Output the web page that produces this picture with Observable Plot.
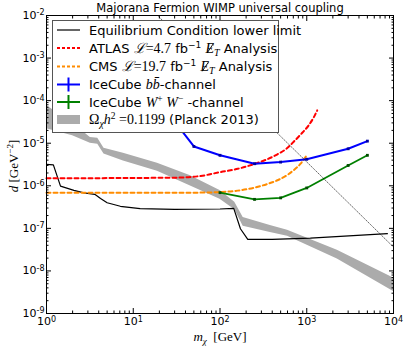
<!DOCTYPE html>
<html><head><meta charset="utf-8">
<script src="https://cdn.jsdelivr.net/npm/d3@7"></script>
<script src="https://cdn.jsdelivr.net/npm/@observablehq/plot@0.6"></script>
<style>
html,body{margin:0;padding:0;background:#fff;}
svg{display:block;}
</style></head><body><div id="chart"></div>
<script>
// ---------- data ----------
const eqM = [1, 1.2, 1.45, 2.07, 2.7, 3.6, 4.2, 5.0, 7.1, 12, 30, 100, 144, 172, 209, 400, 1100, 8500];
const eqD = [3.2e-6, 3.1e-6, 9.8e-7, 7.8e-7, 6.8e-7, 6.3e-7, 5.0e-7, 4.0e-7, 3.3e-7, 2.9e-7, 2.8e-7, 2.85e-7, 2.95e-7, 9.8e-8, 5.5e-8, 5.5e-8, 5.9e-8, 7.5e-8];

const atlasM = [1, 30, 60, 101, 160, 243, 350, 460, 600, 703, 850, 1047, 1200, 1320];
const atlasD = [1.5e-6, 1.55e-6, 1.7e-6, 2.1e-6, 2.5e-6, 3.2e-6, 4.2e-6, 5.5e-6, 7.8e-6, 1.07e-5, 1.6e-5, 2.6e-5, 4.0e-5, 5.9e-5];

const cmsM = [1, 50, 100, 160, 243, 350, 460, 600, 703, 850, 1000];
const cmsD = [6.9e-7, 6.9e-7, 7.1e-7, 7.7e-7, 8.9e-7, 1.1e-6, 1.35e-6, 1.8e-6, 2.3e-6, 3.3e-6, 5.2e-6];

const bbM = [30, 50, 100, 250, 500, 1000, 3000, 5000];
const bbD = [3.2e-5, 8.4e-6, 5.2e-6, 3.3e-6, 3.6e-6, 4.2e-6, 7.4e-6, 1.12e-5];

const wwM = [100, 250, 500, 1000, 3000, 5000];
const wwD = [6.9e-7, 4.8e-7, 5.2e-7, 8.9e-7, 3.0e-6, 5.2e-6];

const planckM  = [1, 2, 3.2, 3.9, 4.6, 7.7, 19, 45, 100, 148, 185, 380, 600, 2250, 10000];
const planckHi = [7.7e-5, 3.0e-5, 1.37e-5, 1.3e-5, 7.6e-6, 5.8e-6, 3.4e-6, 1.75e-6, 7.8e-7, 4.1e-7, 1.8e-7, 1.17e-7, 9.0e-8, 3.05e-8, 6.8e-9];
const planckLo = [2.2e-5, 1.5e-5, 1.0e-5, 9.4e-6, 5.6e-6, 3.8e-6, 2.2e-6, 1.0e-6, 4.8e-7, 2.75e-7, 1.12e-7, 8.0e-8, 6.5e-8, 1.9e-8, 3.3e-9];

const dotM = [19.04, 10000];
const dotD = [1e-2, 3.63e-8];

const xTicks = [1, 10, 100, 1000, 10000];
const xTickExp = ["0", "1", "2", "3", "4"];
const yTicks = [1e-9, 1e-8, 1e-7, 1e-6, 1e-5, 1e-4, 1e-3, 1e-2];
const yTickExp = ["-9", "-8", "-7", "-6", "-5", "-4", "-3", "-2"];

const titleText = "Majorana Fermion WIMP universal coupling";

// ---------- build tables ----------
const zip = (a, b) => a.map((m, i) => ({m, d: b[i]}));
const eq = zip(eqM, eqD), atlas = zip(atlasM, atlasD), cms = zip(cmsM, cmsD);
const bb = zip(bbM, bbD), ww = zip(wwM, wwD), dotted = zip(dotM, dotD);
const planck = planckM.map((m, i) => ({m, lo: planckLo[i], hi: planckHi[i]}));
const minor = (lo, hi) => { const r = []; for (let e = lo; e < hi; e++) for (let k = 2; k <= 9; k++) r.push(k * Math.pow(10, e)); return r; };
const xMinor = minor(0, 4), yMinor = minor(-9, -2);
const xLab = new Map(xTicks.map((v, i) => [v, xTickExp[i]]));
const yLab = new Map(yTicks.map((v, i) => [v, yTickExp[i]]));

const MAJ = -5, MIN = -2.5;
const blank = () => "";

const svgNode = Plot.plot({
  width: 407, height: 350,
  marginLeft: 46, marginRight: 14, marginTop: 15, marginBottom: 37,
  style: {fontFamily: "DejaVu Sans", fontSize: "11px", background: "white", color: "black"},
  x: {type: "log", domain: [1, 1e4]},
  y: {type: "log", domain: [1e-9, 1e-2]},
  marks: [
    Plot.areaY(planck, {x: "m", y1: "lo", y2: "hi", fill: "#ababab"}),
    Plot.line(eq, {x: "m", y: "d", stroke: "black", strokeWidth: 1.2}),
    Plot.line(atlas, {x: "m", y: "d", stroke: "#ff0000", strokeWidth: 2, strokeDasharray: "4,3", curve: "monotone-x"}),
    Plot.line(cms, {x: "m", y: "d", stroke: "#ff8c00", strokeWidth: 2, strokeDasharray: "4,3", curve: "monotone-x"}),
    Plot.line(bb, {x: "m", y: "d", stroke: "#0000ff", strokeWidth: 2}),
    Plot.dot(bb, {x: "m", y: "d", r: 1.6, symbol: "square", fill: "#0000a0"}),
    Plot.line(ww, {x: "m", y: "d", stroke: "#008000", strokeWidth: 1.8}),
    Plot.dot(ww, {x: "m", y: "d", r: 1.6, symbol: "square", fill: "#004d00"}),
    Plot.line(dotted, {x: "m", y: "d", stroke: "black", strokeWidth: 0.6, strokeDasharray: "1,1.5"}),
    Plot.frame({stroke: "black", strokeWidth: 1}),
    Plot.axisX(xTicks, {anchor: "bottom", tickSize: MAJ, tickPadding: 9, label: null, fontSize: 11, tickFormat: v => "10^" + xLab.get(v)}),
    Plot.axisX(xMinor, {anchor: "bottom", tickSize: MIN, label: null, tickFormat: blank}),
    Plot.axisX(xTicks, {anchor: "top", tickSize: MAJ, label: null, tickFormat: blank}),
    Plot.axisX(xMinor, {anchor: "top", tickSize: MIN, label: null, tickFormat: blank}),
    Plot.axisY(yTicks, {anchor: "left", tickSize: MAJ, tickPadding: 7, label: null, fontSize: 11, tickFormat: v => "10^" + yLab.get(v)}),
    Plot.axisY(yMinor, {anchor: "left", tickSize: MIN, label: null, tickFormat: blank}),
    Plot.axisY(yTicks, {anchor: "right", tickSize: MAJ, label: null, tickFormat: blank}),
    Plot.axisY(yMinor, {anchor: "right", tickSize: MIN, label: null, tickFormat: blank})
  ]
});
document.getElementById("chart").appendChild(svgNode);
const svg = d3.select(svgNode);

// superscript exponents on tick labels
svg.selectAll("text").each(function() {
  const s = this.textContent;
  if (!s.includes("^")) return;
  const [b, e] = s.split("^");
  const t = d3.select(this);
  t.text(null);
  t.append("tspan").text(b);
  t.append("tspan").attr("font-size", 8).attr("dy", "-0.45em").text(e);
});

// rich text helper
const SANS = "DejaVu Sans", SERIF = "Liberation Serif";
const FS = 13, MS = 14;
function rich(parent, x, y, parts, attrs = {}) {
  const t = parent.append("text").attr("x", x).attr("y", y).attr("font-family", SANS)
    .attr("font-size", FS).attr("fill", "black").attr("stroke", "none").attr("text-anchor", "start");
  for (const k in attrs) t.attr(k, attrs[k]);
  let cur = 0;
  for (const p of parts) {
    const sh = p.sh || 0;
    const ts = t.append("tspan").text(p.t);
    if (sh - cur !== 0) ts.attr("dy", sh - cur);
    cur = sh;
    if (p.dx) ts.attr("dx", p.dx);
    if (p.f) ts.attr("font-family", p.f);
    if (p.s) ts.attr("font-size", p.s);
    if (p.i) ts.attr("font-style", "italic");
    if (p.slash) ts.classed("slashme", true);
  }
  return t;
}

// title
svg.append("text").attr("x", 220).attr("y", 12).attr("text-anchor", "middle")
  .attr("font-family", SANS).attr("font-size", 11.5).attr("fill", "black").text(titleText);

// axis labels
rich(svg, 220, 341, [
  {t: "m", f: SERIF, i: true, s: 13},
  {t: "χ", f: SERIF, i: true, s: 9, sh: 3},
  {t: "  [GeV]", f: SERIF, s: 13}
], {"text-anchor": "middle"});
const yl = svg.append("g").attr("transform", "translate(18,166) rotate(-90)");
rich(yl, 0, 0, [
  {t: "d", f: SERIF, i: true, s: 13},
  {t: " [GeV", f: SERIF, s: 13},
  {t: "−2", f: SERIF, s: 9, sh: -5},
  {t: "]", f: SERIF, s: 13}
], {"text-anchor": "middle"});

// legend
const lg = svg.append("g");
lg.append("rect").attr("x", 52.5).attr("y", 20.5).attr("width", 226).attr("height", 112)
  .attr("fill", "white").attr("stroke", "#555").attr("stroke-width", 1);
const rows = [30, 48, 66.5, 84.5, 102, 119.5];
const x0 = 57, x1 = 80, tx = 89;
const seg = (y, color, dash, w) => lg.append("line").attr("x1", x0).attr("x2", x1).attr("y1", y).attr("y2", y)
  .attr("stroke", color).attr("stroke-width", w).attr("stroke-dasharray", dash);
seg(rows[0], "#333", null, 1.5);
seg(rows[1], "#ff0000", "3,2", 2);
seg(rows[2], "#ff8c00", "3,2", 2);
seg(rows[3], "#0000ff", null, 2);
lg.append("line").attr("x1", 68.5).attr("x2", 68.5).attr("y1", rows[3] - 7).attr("y2", rows[3] + 7).attr("stroke", "#0000ff").attr("stroke-width", 2);
seg(rows[4], "#008000", null, 2);
lg.append("line").attr("x1", 68.5).attr("x2", 68.5).attr("y1", rows[4] - 7).attr("y2", rows[4] + 7).attr("stroke", "#008000").attr("stroke-width", 2);
lg.append("rect").attr("x", x0).attr("y", rows[5] - 4.5).attr("width", x1 - x0).attr("height", 9).attr("fill", "#ababab");

const dy = 4.5;
rich(lg, tx, rows[0] + dy, [{t: "Equilibrium Condition lower limit"}]);
const lumi = (val) => [
  {t: "ℒ", f: SERIF, i: true, s: MS},
  {t: "=" + val, f: SERIF, s: MS},
  {t: " fb"},
  {t: "−1", s: 9, sh: -5},
  {t: " "},
  {t: "E", f: SERIF, i: true, s: MS, slash: true},
  {t: "T", f: SERIF, i: true, s: 10, sh: 3},
  {t: " Analysis"}
];
rich(lg, tx, rows[1] + dy, [{t: "ATLAS "}, ...lumi("4.7")]);
rich(lg, tx, rows[2] + dy, [{t: "CMS "}, ...lumi("19.7")]);
rich(lg, tx, rows[3] + dy, [{t: "IceCube "}, {t: "b", f: SERIF, i: true, s: MS}, {t: "b̄", f: SERIF, i: true, s: MS}, {t: "-channel"}]);
rich(lg, tx, rows[4] + dy, [{t: "IceCube "}, {t: "W", f: SERIF, i: true, s: MS}, {t: "+", f: SERIF, s: 9.5, sh: -5}, {t: " W", f: SERIF, i: true, s: MS}, {t: "−", f: SERIF, s: 9.5, sh: -5}, {t: " -channel"}]);
rich(lg, tx, rows[5] + dy, [{t: "Ω", f: SERIF, s: MS}, {t: "χ", f: SERIF, i: true, s: 10, sh: 3}, {t: "h", f: SERIF, i: true, s: MS}, {t: "2", f: SERIF, s: 9.5, sh: -5}, {t: " =0.1199", f: SERIF, s: MS}, {t: " (Planck 2013)"}]);

// slash through the E of the missing-energy symbol, drawn as a stroke
lg.selectAll("tspan.slashme").each(function() {
  const txt = this.parentNode;
  const full = txt.textContent;
  const before = [...txt.childNodes].slice(0, [...txt.childNodes].indexOf(this)).map(n => n.textContent).join("");
  const ext = txt.getExtentOfChar(before.length);
  const cx = ext.x + ext.width / 2, top = ext.y + ext.height * 0.22, bot = ext.y + ext.height * 0.82;
  lg.append("line").attr("x1", cx - 2.5).attr("y1", bot).attr("x2", cx + 3.5).attr("y2", top)
    .attr("stroke", "black").attr("stroke-width", 0.9);
});
</script>
</body></html>
